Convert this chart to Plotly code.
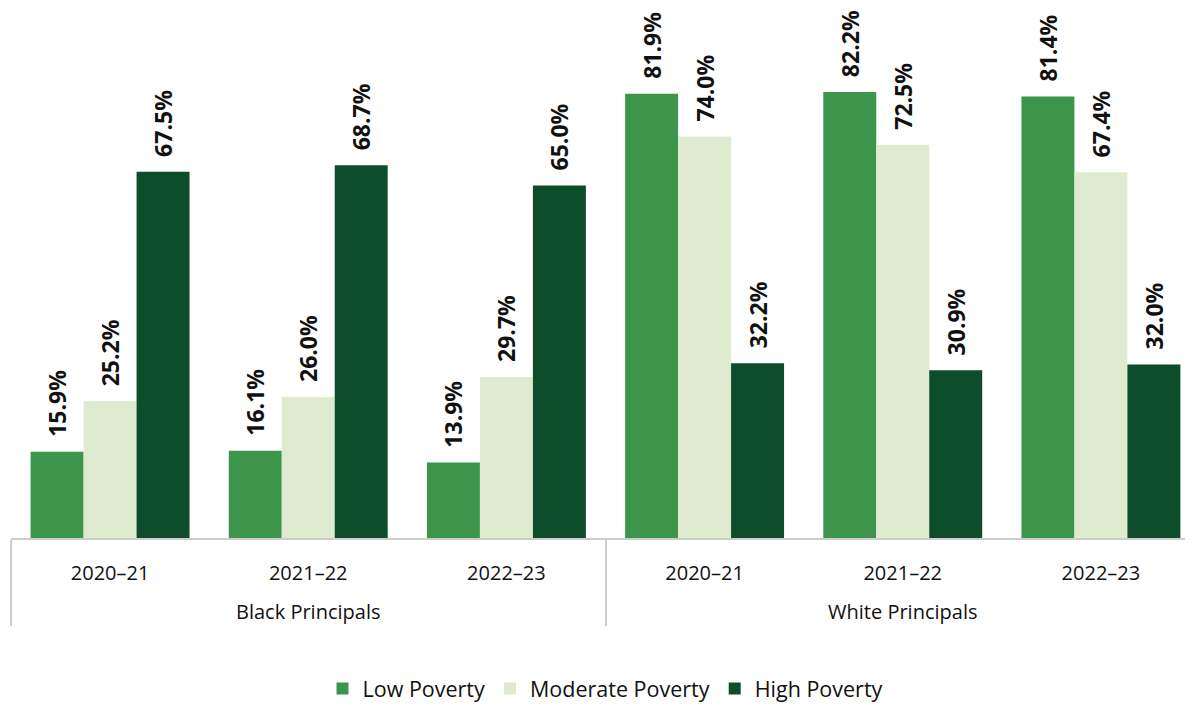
import plotly.graph_objects as go

groups = ["Black Principals"] * 3 + ["White Principals"] * 3
years = ["2020–21", "2021–22", "2022–23"] * 2
series_names = ["Low Poverty", "Moderate Poverty", "High Poverty"]
low = [15.9, 16.1, 13.9, 81.9, 82.2, 81.4]
moderate = [25.2, 26.0, 29.7, 74.0, 72.5, 67.4]
high = [67.5, 68.7, 65.0, 32.2, 30.9, 32.0]
colors = ["#3d944b", "#deebcf", "#0d4d2c"]

FONT = "Open Sans"
year_ticks = [y + "<br>\u00a0" for y in years]

fig = go.Figure()
for name, vals, col in zip(series_names, [low, moderate, high], colors):
    fig.add_trace(go.Bar(
        x=[groups, year_ticks], y=vals, name=name, marker_color=col,
        marker_line_width=0,
        text=[f"\u00a0\u00a0{v:.1f}%" for v in vals], textposition="outside",
        textangle=-90, constraintext="none", cliponaxis=False,
        textfont=dict(family=FONT, size=23, color="#111", weight="bold"),
    ))

fig.update_layout(
    width=1193, height=706,
    margin=dict(l=3, r=1, t=0, b=176, autoexpand=False),
    paper_bgcolor="white", plot_bgcolor="white",
    barmode="group", bargap=0.198, bargroupgap=0,
    font=dict(family=FONT, size=20, color="#111"),
    showlegend=True,
    legend=dict(orientation="h", x=0.5, xanchor="center", y=-0.284, yanchor="middle",
                font=dict(size=21.5, family=FONT), traceorder="normal", itemwidth=30),
    xaxis=dict(type="multicategory", showline=True, linecolor="#cccccc", linewidth=1.5,
               showdividers=True, dividercolor="#cccccc", dividerwidth=1.5,
               tickfont=dict(size=20, family=FONT), range=[-0.5, 5.5], ticks="",
               ticklabelstandoff=16, automargin=False),
    yaxis=dict(range=[0, 97.7], visible=False, showgrid=False, zeroline=False),
)
fig.write_html("out.html")
